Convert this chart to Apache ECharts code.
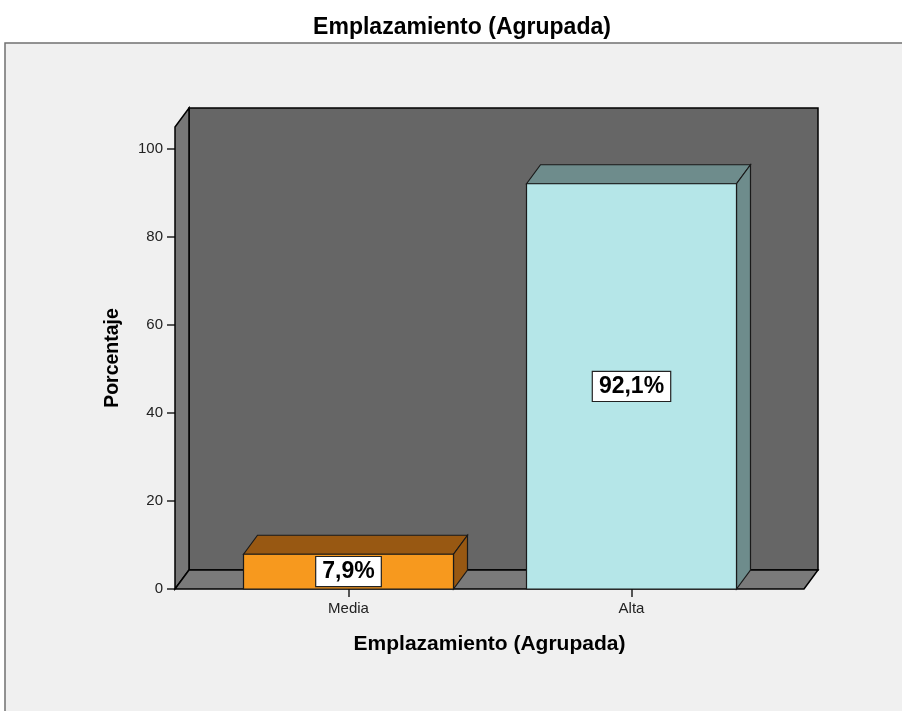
<!DOCTYPE html>
<html>
<head>
<meta charset="utf-8">
<script src="https://cdn.jsdelivr.net/npm/echarts@6/dist/echarts.min.js"></script>
<style>
  html, body { margin: 0; padding: 0; background: #fff; }
  #main { width: 902px; height: 711px; }
</style>
</head>
<body>
<div id="main"></div>
<script>
var categories = ['Media', 'Alta'];
var porcentajes = [7.9, 92.1];
var yTicks = [0, 20, 40, 60, 80, 100];

var frontColors = ['#f7991e', '#b5e6e8'];
var darkColors = ['#985812', '#6e8c8c'];
var DX = 14, DY = 19;
var FONT = '"Liberation Sans", Arial, sans-serif';

var chartDom = document.getElementById('main');
var myChart = echarts.init(chartDom);

function etiqueta(v) {
  return v.toFixed(1).replace('.', ',') + '%';
}

// paredes 3D (fondo, lateral, suelo) a partir del area del grid
function renderWalls(params, api) {
  var cs = params.coordSys;
  var x0 = cs.x, x1 = cs.x + cs.width, y0 = cs.y, y1 = cs.y + cs.height;
  var edge = { stroke: '#000', lineWidth: 1.5 };
  return {
    type: 'group',
    children: [
      { type: 'rect', shape: { x: x0 + DX, y: y0 - DY, width: cs.width, height: cs.height },
        style: Object.assign({ fill: '#666666' }, edge) },
      { type: 'polygon', shape: { points: [[x0, y0], [x0 + DX, y0 - DY], [x0 + DX, y1 - DY], [x0, y1]] },
        style: Object.assign({ fill: '#777777' }, edge) },
      { type: 'polygon', shape: { points: [[x0, y1], [x0 + DX, y1 - DY], [x1 + DX, y1 - DY], [x1, y1]] },
        style: Object.assign({ fill: '#7a7a7a' }, edge) }
    ]
  };
}

function renderBar(params, api) {
  var i = api.value(0);
  var top = api.coord([i, api.value(1)]);
  var base = api.coord([i, 0]);
  var w = api.size([1, 0])[0] * 0.742;
  var l = top[0] - w / 2, r = top[0] + w / 2;
  var edge = { stroke: '#1a1a1a', lineWidth: 1.2 };
  return {
    type: 'group',
    children: [
      { type: 'polygon', shape: { points: [[l, top[1]], [l + DX, top[1] - DY], [r + DX, top[1] - DY], [r, top[1]]] },
        style: Object.assign({ fill: darkColors[i] }, edge) },
      { type: 'polygon', shape: { points: [[r, top[1]], [r + DX, top[1] - DY], [r + DX, base[1] - DY], [r, base[1]]] },
        style: Object.assign({ fill: darkColors[i] }, edge) },
      { type: 'rect', shape: { x: l, y: top[1], width: w, height: base[1] - top[1] },
        style: Object.assign({ fill: frontColors[i] }, edge) },
      { type: 'text', style: {
          text: etiqueta(api.value(1)), x: top[0], y: (top[1] + base[1]) / 2,
          align: 'center', verticalAlign: 'middle',
          font: 'bold 23px ' + FONT, fill: '#000',
          backgroundColor: '#fff', borderColor: '#222', borderWidth: 1.2, padding: [3, 6]
        } }
    ]
  };
}

var option = {
  backgroundColor: '#fff',
  animation: false,
  graphic: [
    { type: 'rect', z: -10, shape: { x: 5, y: 43, width: 920, height: 700 },
      style: { fill: '#f0f0f0', stroke: '#707070', lineWidth: 1.5 } },
    { type: 'text', x: 462, y: 28, style: { text: 'Emplazamiento (Agrupada)', align: 'center',
      verticalAlign: 'middle', font: 'bold 23px ' + FONT, fill: '#000' } }
  ],
  grid: [
    { left: 175, right: 98, top: 127, bottom: 122 },
    { left: 207, right: 129, top: 127, bottom: 122 }
  ],
  xAxis: [
    {
      gridIndex: 0, type: 'category', data: categories,
      axisLine: { show: false }, axisTick: { show: false }, axisLabel: { show: false },
      name: 'Emplazamiento (Agrupada)', nameLocation: 'middle', nameGap: 45,
      nameTextStyle: { fontFamily: FONT, fontWeight: 'bold', fontSize: 21, color: '#000' }
    },
    {
      gridIndex: 1, type: 'category', data: categories,
      axisLine: { show: false },
      axisTick: { show: true, alignWithLabel: true, length: 8, lineStyle: { color: '#222', width: 1.5 } },
      axisLabel: { margin: 12, fontFamily: FONT, fontSize: 15, color: '#222' }
    }
  ],
  yAxis: [
    {
      gridIndex: 0, type: 'value', min: 0, max: 105, interval: 20,
      axisLine: { show: false }, splitLine: { show: false },
      axisTick: { show: true, length: 8, customValues: yTicks, lineStyle: { color: '#222', width: 1.5 } },
      axisLabel: { margin: 12, customValues: yTicks, fontFamily: FONT, fontSize: 15, color: '#222' },
      name: 'Porcentaje', nameLocation: 'middle', nameGap: 52,
      nameTextStyle: { fontFamily: FONT, fontWeight: 'bold', fontSize: 19.5, color: '#000' }
    },
    { gridIndex: 1, type: 'value', min: 0, max: 105, show: false, splitLine: { show: false } }
  ],
  series: [
    {
      type: 'custom', xAxisIndex: 0, yAxisIndex: 0, z: 1,
      renderItem: renderWalls, data: [[0, 0]], silent: true
    },
    {
      type: 'custom', xAxisIndex: 1, yAxisIndex: 1, z: 3,
      renderItem: renderBar,
      data: porcentajes.map(function (v, i) { return [i, v]; })
    }
  ]
};

option && myChart.setOption(option);
</script>
</body>
</html>
